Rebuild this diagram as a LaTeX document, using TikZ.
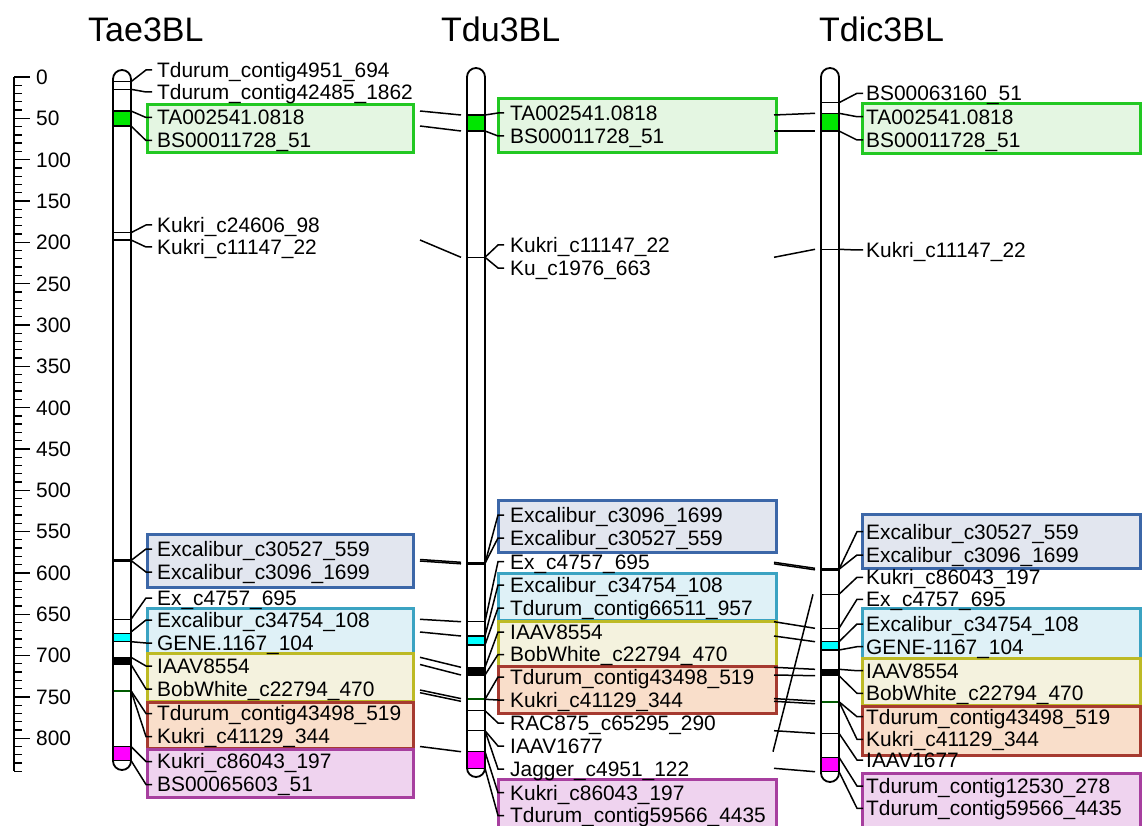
\documentclass[tikz,border=0pt]{standalone}
\usepackage{fontspec}
\setmainfont{Liberation Sans}
\usetikzlibrary{calc}
\definecolor{gBd}{HTML}{22C822}\definecolor{gFl}{HTML}{E4F6E2}
\definecolor{bBd}{HTML}{3C67A8}\definecolor{bFl}{HTML}{E2E6EF}
\definecolor{cBd}{HTML}{3BA3C2}\definecolor{cFl}{HTML}{DFF1F7}
\definecolor{yBd}{HTML}{BDBA25}\definecolor{yFl}{HTML}{F4F2DE}
\definecolor{rBd}{HTML}{A63A30}\definecolor{rFl}{HTML}{F9DECA}
\definecolor{pBd}{HTML}{A73F9F}\definecolor{pFl}{HTML}{EFD3EF}
\definecolor{bandGreen}{HTML}{00E600}
\definecolor{bandCyan}{HTML}{00FFFF}
\definecolor{bandMag}{HTML}{FF00FF}
\definecolor{bandDk}{HTML}{005A00}
\newcommand{\chrline}[2]{\draw[bandline] (#1,#2) -- ++(18,0);}
\newcommand{\chrblock}[4]{\filldraw[bandline, fill=#4] (#1,#2) rectangle (#1+18,#3);}
\newcommand{\cn}[2]{\draw[mconn] (#1) -- ([xshift=-\bsh]#2.west) -- ([xshift=-\tsh]#2.west);}
\newcommand{\xl}[4]{\draw[mconn] (#1 -| #3) -- (#2 -| #4);}
\begin{document}
\begin{tikzpicture}[x=1pt,y=-1pt,
  mlabel/.style={anchor=west, inner sep=0pt, text height=14.8pt, text depth=0pt, font=\fontsize{20.9}{24}\selectfont},
  rlabel/.style={anchor=west, inner sep=0pt, text height=14.8pt, text depth=0pt, font=\fontsize{20.9}{24}\selectfont},
  ttlstyle/.style={anchor=base west, inner sep=0pt, font=\fontsize{34}{40}\selectfont},
  mconn/.style={line width=1.5pt},
  bandline/.style={line width=1.4pt},
  chromo/.style={line width=1.8pt, rounded corners=9pt},
  bx/.style={line width=3pt}]
\useasboundingbox (0,0) rectangle (1142,826);
\clip (0,0) rectangle (1142,826);

% titles
\node[ttlstyle] (t1) at (88,42) {Tae3BL};
\node[ttlstyle] (t2) at (441,42) {Tdu3BL};
\node[ttlstyle] (t3) at (819,42) {Tdic3BL};

% ruler
\draw[line width=1.6pt] (14,77) -- (14,771.3);
\foreach \u in {0,10,...,840} {\draw[line width=1.3pt] (14,77+0.8265*\u) -- (22,77+0.8265*\u);}
\foreach \u in {0,50,...,800} {
  \draw[line width=1.3pt] (14,77+0.8265*\u) -- (30,77+0.8265*\u);
  \node[rlabel] (r\u) at (36,77+0.8265*\u) {\u};}

% gap references
\coordinate (gAL) at (420,0); \coordinate (gAR) at (461,0);
\coordinate (gBL) at (774,0); \coordinate (gBR) at (815,0);

% ---------- boxes ----------
\filldraw[bx, draw=gBd, fill=gFl] (147,105) rectangle (413,153);
\filldraw[bx, draw=bBd, fill=bFl] (147,534) rectangle (413,587);
\filldraw[bx, draw=cBd, fill=cFl] (147,608) rectangle (413,655);
\filldraw[bx, draw=yBd, fill=yFl] (147,653) rectangle (413,701);
\filldraw[bx, draw=rBd, fill=rFl] (147,702) rectangle (413,748);
\filldraw[bx, draw=pBd, fill=pFl] (147,749) rectangle (413,797);

\filldraw[bx, draw=gBd, fill=gFl] (498,99) rectangle (776,153);
\filldraw[bx, draw=bBd, fill=bFl] (498,500) rectangle (776,552);
\filldraw[bx, draw=cBd, fill=cFl] (498,573) rectangle (776,620);
\filldraw[bx, draw=yBd, fill=yFl] (498,621) rectangle (776,667);
\filldraw[bx, draw=rBd, fill=rFl] (498,666) rectangle (776,713);
\filldraw[bx, draw=pBd, fill=pFl] (498,779) rectangle (776,840);

\filldraw[bx, draw=gBd, fill=gFl] (862,104) rectangle (1140,154);
\filldraw[bx, draw=bBd, fill=bFl] (862,514) rectangle (1140,568);
\filldraw[bx, draw=cBd, fill=cFl] (862,608) rectangle (1140,659);
\filldraw[bx, draw=yBd, fill=yFl] (862,658) rectangle (1140,705);
\filldraw[bx, draw=rBd, fill=rFl] (862,706) rectangle (1140,755);
\filldraw[bx, draw=pBd, fill=pFl] (862,773) rectangle (1140,840);

% ---------- chromosomes ----------
% Tae
\fill[white, rounded corners=9pt] (113,70) rectangle (131,770);
\chrline{113}{81.7}\chrline{113}{89.3}
\chrblock{113}{111}{126}{bandGreen}
\chrline{113}{232.7}\chrline{113}{240}
\draw[line width=2.6pt] (113,560.5) -- ++(18,0);
\chrline{113}{619.3}
\chrblock{113}{633.5}{641.7}{bandCyan}
\chrblock{113}{657.3}{664.5}{black}
\draw[line width=2.2pt, bandDk] (113,690.7) -- ++(18,0);
\chrblock{113}{746.5}{760.5}{bandMag}
\draw[chromo] (113,70) rectangle (131,770);
% Tdu
\fill[white, rounded corners=9pt] (467,68) rectangle (485,777);
\chrblock{467}{115}{131}{bandGreen}
\chrline{467}{257.3}
\draw[line width=2.6pt] (467,563.3) -- ++(18,0);
\chrline{467}{621.7}
\chrblock{467}{636}{645}{bandCyan}
\chrblock{467}{667.3}{675}{black}
\draw[line width=2.2pt, bandDk] (467,699.3) -- ++(18,0);
\chrline{467}{710.7}\chrline{467}{730.7}
\chrblock{467}{751.7}{768.3}{bandMag}
\draw[chromo] (467,68) rectangle (485,777);
% Tdic
\fill[white, rounded corners=9pt] (821,68) rectangle (839,782);
\chrline{821}{102.7}
\chrblock{821}{113.3}{131}{bandGreen}
\chrline{821}{249.3}
\draw[line width=2.6pt] (821,569.3) -- ++(18,0);
\chrline{821}{594.3}\chrline{821}{628.3}
\chrblock{821}{641.7}{650}{bandCyan}
\chrblock{821}{669.3}{675.7}{black}
\draw[line width=2.2pt, bandDk] (821,701.7) -- ++(18,0);
\chrline{821}{733.3}
\chrblock{821}{757.3}{771.7}{bandMag}
\draw[chromo] (821,68) rectangle (839,782);

% ---------- marker coordinates (right edge of chromosomes) ----------
\coordinate (aT1) at (131,81.7); \coordinate (aT2) at (131,89.3);
\coordinate (aTA) at (131,111); \coordinate (aBS) at (131,126);
\coordinate (aK1) at (131,232.7); \coordinate (aK2) at (131,240);
\coordinate (aEx) at (131,560.5); \coordinate (aE4) at (131,619.3);
\coordinate (aC1) at (131,632); \coordinate (aC2) at (131,641.7);
\coordinate (aI1) at (131,657.3); \coordinate (aI2) at (131,664.5);
\coordinate (aG) at (131,690.7); \coordinate (aM1) at (131,746.5);
\coordinate (aM2) at (131,760.5);

\coordinate (dTA) at (485,115); \coordinate (dBS) at (485,131);
\coordinate (dK) at (485,257.3); \coordinate (dEx) at (485,563.3);
\coordinate (dE4) at (485,621.7); \coordinate (dC1) at (485,636);
\coordinate (dC2) at (485,645); \coordinate (dI1) at (485,667.3);
\coordinate (dI2) at (485,675); \coordinate (dG) at (485,699.3);
\coordinate (dR) at (485,710.7); \coordinate (dJ) at (485,730.7);
\coordinate (dM1) at (485,751.7); \coordinate (dM2) at (485,768.3);

\coordinate (cBS6) at (839,102.7); \coordinate (cTA) at (839,113.3);
\coordinate (cBS) at (839,131); \coordinate (cK) at (839,249.3);
\coordinate (cEx) at (839,569.3); \coordinate (cK8) at (839,594.3);
\coordinate (cE4) at (839,628.3); \coordinate (cC1) at (839,641.7);
\coordinate (cC2) at (839,650); \coordinate (cI1) at (839,669.3);
\coordinate (cI2) at (839,675.7); \coordinate (cG) at (839,701.7);
\coordinate (cJ) at (839,733.3); \coordinate (cM1) at (839,757.3);
\coordinate (cM2) at (839,771.7);

% ---------- labels: Tae ----------
\node[mlabel] (aL1) at (157,70) {Tdurum\_contig4951\_694};
\node[mlabel] (aL2) at (157,92) {Tdurum\_contig42485\_1862};
\node[mlabel] (aL3) at (157,117.5) {TA002541.0818};
\node[mlabel] (aL4) at (157,140.5) {BS00011728\_51};
\node[mlabel] (aL5) at (157,225) {Kukri\_c24606\_98};
\node[mlabel] (aL6) at (157,247) {Kukri\_c11147\_22};
\node[mlabel] (aL7) at (157,549) {Excalibur\_c30527\_559};
\node[mlabel] (aL8) at (157,572) {Excalibur\_c3096\_1699};
\node[mlabel] (aL9) at (157,598) {Ex\_c4757\_695};
\node[mlabel] (aL10) at (157,620) {Excalibur\_c34754\_108};
\node[mlabel] (aL11) at (157,643) {GENE.1167\_104};
\node[mlabel] (aL12) at (157,666) {IAAV8554};
\node[mlabel] (aL13) at (157,689) {BobWhite\_c22794\_470};
\node[mlabel] (aL14) at (157,713.5) {Tdurum\_contig43498\_519};
\node[mlabel] (aL15) at (157,736.5) {Kukri\_c41129\_344};
\node[mlabel] (aL16) at (157,761.5) {Kukri\_c86043\_197};
\node[mlabel] (aL17) at (157,784.5) {BS00065603\_51};
\def\bsh{11pt}\def\tsh{5pt}
\cn{aT1}{aL1}\cn{aT2}{aL2}\cn{aTA}{aL3}\cn{aBS}{aL4}\cn{aK1}{aL5}\cn{aK2}{aL6}
\cn{aEx}{aL7}\cn{aEx}{aL8}\cn{aE4}{aL9}\cn{aC1}{aL10}\cn{aC2}{aL11}
\cn{aI1}{aL12}\cn{aI2}{aL13}\cn{aG}{aL14}\cn{aG}{aL15}\cn{aM1}{aL16}\cn{aM2}{aL17}

% ---------- labels: Tdu ----------
\node[mlabel] (dL1) at (510,113) {TA002541.0818};
\node[mlabel] (dL2) at (510,136) {BS00011728\_51};
\node[mlabel] (dL3) at (510,245) {Kukri\_c11147\_22};
\node[mlabel] (dL4) at (510,268) {Ku\_c1976\_663};
\node[mlabel] (dL5) at (510,515) {Excalibur\_c3096\_1699};
\node[mlabel] (dL6) at (510,538) {Excalibur\_c30527\_559};
\node[mlabel] (dL7) at (510,561.7) {Ex\_c4757\_695};
\node[mlabel] (dL8) at (510,585) {Excalibur\_c34754\_108};
\node[mlabel] (dL9) at (510,608) {Tdurum\_contig66511\_957};
\node[mlabel] (dL10) at (510,632) {IAAV8554};
\node[mlabel] (dL11) at (510,654.5) {BobWhite\_c22794\_470};
\node[mlabel] (dL12) at (510,677) {Tdurum\_contig43498\_519};
\node[mlabel] (dL13) at (510,700) {Kukri\_c41129\_344};
\node[mlabel] (dL14) at (510,723) {RAC875\_c65295\_290};
\node[mlabel] (dL15) at (510,746) {IAAV1677};
\node[mlabel] (dL16) at (510,769) {Jagger\_c4951\_122};
\node[mlabel] (dL17) at (510,792.7) {Kukri\_c86043\_197};
\node[mlabel] (dL18) at (510,815.5) {Tdurum\_contig59566\_4435};
\def\bsh{12pt}\def\tsh{6pt}
\cn{dTA}{dL1}\cn{dBS}{dL2}\cn{dK}{dL3}\cn{dK}{dL4}\cn{dEx}{dL5}\cn{dEx}{dL6}
\cn{dE4}{dL7}\cn{dC1}{dL8}\cn{dC2}{dL9}\cn{dI1}{dL10}\cn{dI2}{dL11}
\cn{dG}{dL12}\cn{dG}{dL13}\cn{dR}{dL14}\cn{dJ}{dL15}\cn{dJ}{dL16}
\cn{dM1}{dL17}\cn{dM2}{dL18}

% ---------- labels: Tdic ----------
\node[mlabel] (cL1) at (866,93.3) {BS00063160\_51};
\node[mlabel] (cL2) at (866,116.7) {TA002541.0818};
\node[mlabel] (cL3) at (866,140) {BS00011728\_51};
\node[mlabel] (cL4) at (866,250) {Kukri\_c11147\_22};
\node[mlabel] (cL5) at (866,531.7) {Excalibur\_c30527\_559};
\node[mlabel] (cL6) at (866,555) {Excalibur\_c3096\_1699};
\node[mlabel] (cL7) at (866,577.3) {Kukri\_c86043\_197};
\node[mlabel] (cL8) at (866,599.3) {Ex\_c4757\_695};
\node[mlabel] (cL9) at (866,624) {Excalibur\_c34754\_108};
\node[mlabel] (cL10) at (866,646.7) {GENE-1167\_104};
\node[mlabel] (cL11) at (866,670.7) {IAAV8554};
\node[mlabel] (cL12) at (866,693.3) {BobWhite\_c22794\_470};
\node[mlabel] (cL13) at (866,716.7) {Tdurum\_contig43498\_519};
\node[mlabel] (cL14) at (866,739.3) {Kukri\_c41129\_344};
\node[mlabel] (cL15) at (866,760) {IAAV1677};
\node[mlabel] (cL16) at (866,786) {Tdurum\_contig12530\_278};
\node[mlabel] (cL17) at (866,808.3) {Tdurum\_contig59566\_4435};
\def\bsh{9pt}\def\tsh{3pt}
\cn{cBS6}{cL1}\cn{cTA}{cL2}\cn{cBS}{cL3}\cn{cK}{cL4}\cn{cEx}{cL5}\cn{cEx}{cL6}
\cn{cK8}{cL7}\cn{cE4}{cL8}\cn{cC1}{cL9}\cn{cC2}{cL10}\cn{cI1}{cL11}\cn{cI2}{cL12}
\cn{cG}{cL13}\cn{cG}{cL14}\cn{cJ}{cL15}\cn{cM1}{cL16}\cn{cM2}{cL17}

% ---------- cross lines Tae -> Tdu ----------
\xl{aTA}{dTA}{gAL}{gAR}
\xl{aBS}{dBS}{gAL}{gAR}
\xl{aK2}{dK}{gAL}{gAR}
\draw[mconn] ([yshift=1pt]aEx -| gAL) -- ([yshift=1pt]dEx -| gAR);
\draw[mconn] ([yshift=-0.5pt]aEx -| gAL) -- ([yshift=-0.5pt]dEx -| gAR);
\xl{aE4}{dE4}{gAL}{gAR}
\xl{aC1}{dC1}{gAL}{gAR}
\xl{aI1}{dI1}{gAL}{gAR}
\xl{aI2}{dI2}{gAL}{gAR}
\draw[mconn] ([yshift=0.7pt]aG -| gAL) -- ([yshift=0.7pt]dG -| gAR);
\draw[mconn] ([yshift=-2pt]aG -| gAL) -- ([yshift=-2pt]dG -| gAR);
\xl{aM1}{dM1}{gAL}{gAR}

% ---------- cross lines Tdu -> Tdic ----------
\xl{dTA}{cTA}{gBL}{gBR}
\xl{dBS}{cBS}{gBL}{gBR}
\xl{dK}{cK}{gBL}{gBR}
\draw[mconn] ([yshift=1pt]dEx -| gBL) -- ([yshift=1pt]cEx -| gBR);
\draw[mconn] ([yshift=-0.5pt]dEx -| gBL) -- ([yshift=-0.5pt]cEx -| gBR);
\draw[mconn] ([xshift=-1pt]dM1 -| gBL) -- ([xshift=-2pt]cK8 -| gBR);
\xl{dE4}{cE4}{gBL}{gBR}
\xl{dC1}{cC1}{gBL}{gBR}
\xl{dI1}{cI1}{gBL}{gBR}
\xl{dI2}{cI2}{gBL}{gBR}
\draw[mconn] ([yshift=0.7pt]dG -| gBL) -- ([yshift=0.7pt]cG -| gBR);
\draw[mconn] ([yshift=-2pt]dG -| gBL) -- ([yshift=-2pt]cG -| gBR);
\xl{dJ}{cJ}{gBL}{gBR}
\xl{dM2}{cM2}{gBL}{gBR}
\end{tikzpicture}
\end{document}
